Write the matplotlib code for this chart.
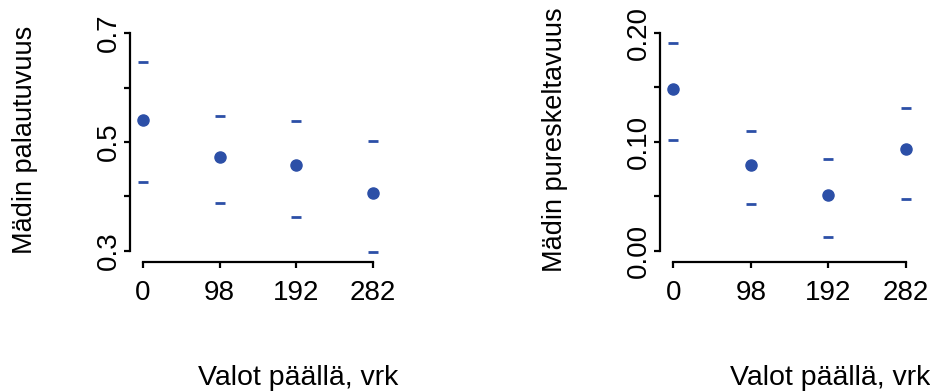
import matplotlib
matplotlib.use("Agg")
import matplotlib.pyplot as plt

plt.rcParams['font.family'] = ['Liberation Sans', 'DejaVu Sans']

days = ["0", "98", "192", "282"]

# roe recovery (palautuvuus): mean and interval limits
pal_mean = [0.540, 0.472, 0.458, 0.407]
pal_upper = [0.646, 0.548, 0.539, 0.502]
pal_lower = [0.427, 0.388, 0.363, 0.298]

# roe chewiness (pureskeltavuus)
pur_mean = [0.148, 0.079, 0.051, 0.093]
pur_upper = [0.191, 0.110, 0.084, 0.131]
pur_lower = [0.1015, 0.043, 0.013, 0.047]

col = "#2c4fa7"
W, H = 930, 392
fig = plt.figure(figsize=(W / 100, H / 100), dpi=100)


def panel(x0, x1, top, bottom, xlim, ylim, yticks, ylabels, ybounds,
          mean, upper, lower, ylab, ylab_x, xlab_x):
    ax = fig.add_axes([x0 / W, 1 - bottom / H, (x1 - x0) / W, (bottom - top) / H])
    pos = [1, 2, 3, 4]
    ax.plot(pos, mean, 'o', color=col, ms=8, mec=col)
    ax.plot(pos, upper, '_', color=col, ms=7, mew=2)
    ax.plot(pos, lower, '_', color=col, ms=7, mew=2)
    ax.set_xlim(*xlim)
    ax.set_ylim(*ylim)
    for s in ['top', 'right']:
        ax.spines[s].set_visible(False)
    ax.spines['left'].set_bounds(*ybounds)
    ax.spines['bottom'].set_bounds(1, 4)
    for s in ['left', 'bottom']:
        ax.spines[s].set_linewidth(1.6)
    ax.set_xticks(pos)
    ax.set_xticklabels(days, fontsize=20)
    ax.set_yticks(yticks)
    ax.set_yticklabels(ylabels, fontsize=20, rotation=90, va='center')
    ax.tick_params(axis='both', length=4, width=1.6, direction='out')
    ax.tick_params(axis='x', pad=9)
    ax.tick_params(axis='y', pad=2)
    fig.text(ylab_x / W, 1 - 140 / H, ylab, rotation=90, fontsize=19.5,
             ha='center', va='center')
    fig.text(xlab_x / W, 1 - 378 / H, "Valot päällä, vrk", fontsize=20.5,
             ha='center', va='center')
    return ax


panel(130, 392, 25, 262, (0.8304, 4.25), (0.2798, 0.7147),
      [0.3, 0.4, 0.5, 0.6, 0.7], ["0.3", "", "0.5", "", "0.7"], (0.3, 0.7),
      pal_mean, pal_upper, pal_lower, "Mädin palautuvuus", 25, 298)

panel(660, 925, 25, 262, (0.827, 4.25), (-0.0104, 0.2071),
      [0.0, 0.05, 0.10, 0.15, 0.20], ["0.00", "", "0.10", "", "0.20"], (0.0, 0.2),
      pur_mean, pur_upper, pur_lower, "Mädin pureskeltavuus", 555, 830)

fig.savefig("out.png", dpi=100)
